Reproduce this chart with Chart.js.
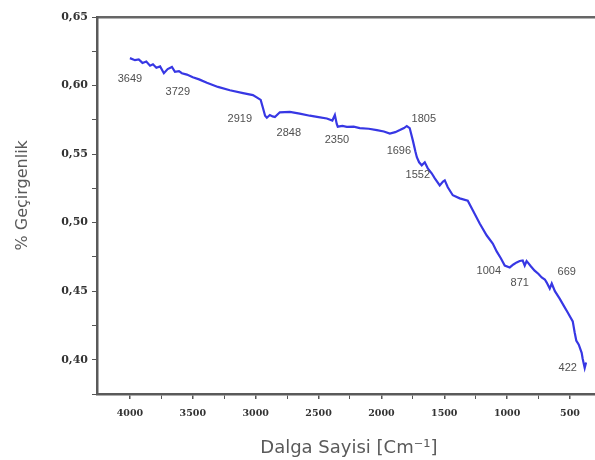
<!DOCTYPE html>
<html>
<head>
<meta charset="utf-8">
<script src="https://cdn.jsdelivr.net/npm/chart.js@4.4.1/dist/chart.umd.min.js"></script>
<style>
  body { margin: 0; background: #fff; overflow: hidden; }
  #wrap { width: 595px; height: 460px; }
</style>
</head>
<body>
<div id="wrap"><canvas id="ftirChart"></canvas></div>
<script>
// Spectrum (wavenumber, cm-1 / transmittance)
const wavenumbers = [4000, 3960, 3930, 3900, 3870, 3840, 3817, 3790, 3760, 3730, 3700, 3666, 3642, 3610, 3587, 3547,
  3500, 3450, 3388, 3300, 3205, 3100, 3022, 2982, 2960, 2943, 2925, 2911, 2887, 2865, 2847, 2808, 2728, 2650, 2569,
  2500, 2434, 2390, 2370, 2355, 2347, 2310, 2275, 2220, 2172, 2100, 2036, 1980, 1933, 1890, 1853, 1820, 1798, 1775,
  1750, 1730, 1718, 1700, 1679, 1655, 1631, 1600, 1575, 1536, 1510, 1496, 1472, 1432, 1377, 1313, 1273, 1218, 1162,
  1114, 1083, 1050, 1019, 979, 950, 924, 900, 876, 860, 845, 836, 810, 781, 750, 725, 700, 685, 661, 645, 620, 582,
  550, 518, 478, 463, 450, 430, 407, 399, 383, 372];
const transmittance = [0.620, 0.6185, 0.619, 0.6165, 0.6175, 0.6145, 0.6155, 0.6130, 0.6140, 0.6090, 0.6120, 0.6135,
  0.6100, 0.6105, 0.6090, 0.6080, 0.6060, 0.6045, 0.6020, 0.5990, 0.5966, 0.5945, 0.5930, 0.5908, 0.5895, 0.5840,
  0.5780, 0.5765, 0.5785, 0.5775, 0.5770, 0.5805, 0.5808, 0.5795, 0.5780, 0.5770, 0.5760, 0.5745, 0.5785, 0.5720,
  0.5700, 0.5705, 0.5698, 0.5700, 0.5690, 0.5685, 0.5675, 0.5665, 0.5650, 0.5660, 0.5675, 0.5690, 0.5705, 0.5690,
  0.5600, 0.5520, 0.5477, 0.5440, 0.5418, 0.5440, 0.5396, 0.5360, 0.5323, 0.5272, 0.5300, 0.5308, 0.5258, 0.5200,
  0.5177, 0.5160, 0.5090, 0.4994, 0.4906, 0.4848, 0.4790, 0.4740, 0.4687, 0.4673, 0.4695, 0.4710, 0.4720, 0.4724,
  0.4687, 0.4720, 0.4710, 0.4680, 0.4650, 0.4625, 0.4600, 0.4585, 0.4563, 0.4519, 0.4556, 0.4500, 0.4446, 0.4395,
  0.4344, 0.4280, 0.4200, 0.4140, 0.4110, 0.4050, 0.4007, 0.3940, 0.3980];

// x axis ticks: labelled ones and the small ones between them
const xMajorTicks = [4000, 3500, 3000, 2500, 2000, 1500, 1000, 500];
const xMinorTicks = [3750, 3250, 2750, 2250, 1750, 1250, 750];

// Peak labels and where their text sits (data units)
const peakLabels = ['3649', '3729', '2919', '2848', '2350', '1805', '1696', '1552', '1004', '871', '669', '422'];
const peakLabelX = [4000, 3619, 3126, 2736, 2354, 1663, 1861, 1710, 1146, 900, 526, 518];
const peakLabelY = [0.6047, 0.5952, 0.5754, 0.5652, 0.5601, 0.5754, 0.552, 0.5345, 0.465, 0.4563, 0.4643, 0.3942];

const points = wavenumbers.map((w, i) => ({ x: w, y: transmittance[i] }));

// draws the peak numbers next to the curve
const peakLabelPlugin = {
  id: 'peakLabels',
  afterDatasetsDraw(chart) {
    const { ctx, scales } = chart;
    ctx.save();
    ctx.font = '11px "Liberation Sans"';
    ctx.fillStyle = '#505050';
    ctx.textAlign = 'center';
    ctx.textBaseline = 'middle';
    peakLabels.forEach((txt, i) => {
      ctx.fillText(txt, scales.x.getPixelForValue(peakLabelX[i]), scales.y.getPixelForValue(peakLabelY[i]));
    });
    ctx.restore();
  }
};

new Chart(document.getElementById('ftirChart'), {
  type: 'line',
  data: {
    datasets: [{
      data: points,
      borderColor: 'rgb(55, 55, 228)',
      borderWidth: 2.2,
      pointRadius: 0,
      tension: 0,
      fill: false
    }]
  },
  options: {
    responsive: true,
    maintainAspectRatio: false,
    animation: false,
    layout: { padding: 0 },
    plugins: { legend: { display: false }, tooltip: { enabled: false } },
    scales: {
      x: {
        type: 'linear',
        position: 'bottom',
        reverse: true,
        min: 301,
        max: 4262,
        afterBuildTicks: scale => {
          scale.ticks = xMajorTicks.concat(xMinorTicks).sort((a, b) => b - a).map(v => ({ value: v }));
        },
        afterFit: scale => { scale.height = 66; },
        border: { color: '#5a5a5a', width: 2.5 },
        grid: { drawOnChartArea: false, tickLength: 5, color: '#555',
          lineWidth: c => (c.tick && xMajorTicks.includes(c.tick.value) ? 1.5 : 1) },
        ticks: {
          autoSkip: false,
          maxRotation: 0,
          minRotation: 0,
          padding: 9,
          color: '#333',
          font: { family: 'DejaVu Serif', size: 9.5, weight: 'bold' },
          callback: v => (xMajorTicks.includes(v) ? String(v) : '')
        },
        title: { display: true, text: ' Dalga Sayisi [Cm⁻¹]', color: '#5a5a5a',
          font: { family: 'DejaVu Sans', size: 18 }, padding: { top: 4, bottom: 1 } }
      },
      x2: {
        type: 'linear',
        position: 'top',
        reverse: true,
        min: 301,
        max: 4262,
        afterFit: scale => { scale.height = 17; },
        border: { display: true, color: '#666', width: 2.5 },
        grid: { display: false },
        ticks: { display: false }
      },
      y: {
        min: 0.375,
        max: 0.65,
        afterFit: scale => { scale.width = 97; },
        border: { color: '#5a5a5a', width: 2.5 },
        grid: { drawOnChartArea: false, tickLength: 5, color: '#555' },
        ticks: {
          stepSize: 0.025,
          includeBounds: false,
          autoSkip: false,
          padding: 4,
          color: '#333',
          font: { family: 'DejaVu Serif', size: 11, weight: 'bold' },
          callback: v => (Math.round(v * 1000) % 50 === 0 ? v.toFixed(2).replace('.', ',') : '')
        },
        title: { display: true, text: '    % Geçirgenlik', color: '#5a5a5a',
          font: { family: 'DejaVu Sans', size: 16 }, padding: { top: 13 } }
      }
    }
  },
  plugins: [peakLabelPlugin]
});
</script>
</body>
</html>
